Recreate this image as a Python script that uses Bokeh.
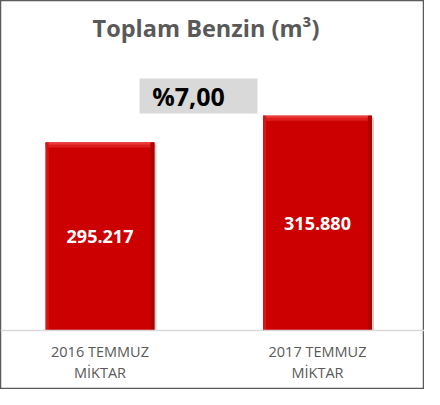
from bokeh.plotting import figure
from bokeh.models import Range1d, Span, Label, ColumnDataSource, BoxAnnotation
from bokeh.core.properties import value
from bokeh.embed import file_html
from bokeh.resources import INLINE

# ---- data ----
cat_line1 = ["2016 TEMMUZ", "2017 TEMMUZ"]
cat_line2 = ["MİKTAR", "MİKTAR"]
values = [295217, 315880]
value_labels = ["295.217", "315.880"]
change_label = "%7,00"
title_text = "Toplam  Benzin (m³)"
axis_min = 150000

# ---- layout constants ----
W, H = 424, 389
px_per_cat = 217.5
k = 0.0012946          # pixels per unit on y
base_from_bottom = 59  # pixels from bottom to baseline
x0_px = 99.5           # pixel of first category centre

x_start = -x0_px / px_per_cat
x_end = (W - x0_px) / px_per_cat
y_start = axis_min - base_from_bottom / k
y_end = axis_min + (H - base_from_bottom) / k

idx = list(range(len(values)))
bar_w = 0.5
src = ColumnDataSource(dict(
    x=idx,
    top=values,
    mid=[(axis_min + v) / 2 for v in values],
    lab=value_labels,
    l1=cat_line1,
    l2=cat_line2,
    base=[axis_min] * len(values),
    shadow_x=[i + 2 / px_per_cat for i in idx],
    shadow_top=[v - 2 / k for v in values],
    bevel1_bottom=[v - 2 / k for v in values],
    bevel2_bottom=[v - 5 / k for v in values],
    right_x=[i + bar_w / 2 - 2 / px_per_cat for i in idx],
    left_x=[i - bar_w / 2 + 1.5 / px_per_cat for i in idx],
))

p = figure(width=W, height=H, x_range=Range1d(x_start, x_end),
           y_range=Range1d(y_start, y_end), min_border=0,
           x_axis_location=None, y_axis_location=None,
           toolbar_location=None, output_backend="svg")
p.grid.visible = False
p.outline_line_color = "#5a5a5a"
p.outline_line_width = 1.5
p.background_fill_color = "white"
p.border_fill_color = "white"

font = value("Open Sans")

# baseline
p.add_layout(Span(location=axis_min, dimension="width", line_color="#D9D9D9", line_width=1.5))

# bars
p.vbar(x="shadow_x", top="shadow_top", bottom="base", width=bar_w, source=src,
       fill_color="#8c8c8c", fill_alpha=0.45, line_color=None)
p.vbar(x="x", top="top", bottom="base", width=bar_w, source=src,
       fill_color="#CC0000", line_color=None)
p.vbar(x="x", top="top", bottom="bevel2_bottom", width=bar_w, source=src,
       fill_color="#DC1E1E", line_color=None)
p.vbar(x="x", top="top", bottom="bevel1_bottom", width=bar_w, source=src,
       fill_color="#EE3A3A", line_color=None)
p.vbar(x="left_x", top="top", bottom="base", width=3 / px_per_cat, source=src,
       fill_color="#D81414", line_color=None)
p.vbar(x="right_x", top="top", bottom="base", width=4 / px_per_cat, source=src,
       fill_color="#B00000", line_color=None)

# value labels inside bars
p.text(x="x", y="mid", text="lab", source=src, text_font=font, text_font_size="18px",
       text_font_style="bold", text_color="white", text_align="center",
       text_baseline="middle")

# category labels
p.text(x="x", y="base", text="l1", source=src, text_font=font, text_font_size="14.5px",
       text_color="#595959", text_align="center", text_baseline="middle", y_offset=21)
p.text(x="x", y="base", text="l2", source=src, text_font=font, text_font_size="14.5px",
       text_color="#595959", text_align="center", text_baseline="middle", y_offset=42)

# change box
p.add_layout(BoxAnnotation(left=139, right=257, bottom=276, top=311,
                           left_units="screen", right_units="screen",
                           bottom_units="screen", top_units="screen",
                           fill_color="#D9D9D9", fill_alpha=1, line_color=None))
p.add_layout(Label(x=188, y=293.5, x_units="screen", y_units="screen",
                   text=change_label, text_font="Open Sans", text_font_size="25px",
                   text_font_style="bold", text_color="black",
                   text_align="center", text_baseline="middle"))

# title
p.add_layout(Label(x=208.5, y=362, x_units="screen", y_units="screen",
                   text=title_text, text_font="Open Sans", text_font_size="23.5px",
                   text_font_style="bold", text_color="#595959",
                   text_align="center", text_baseline="middle"))

open("out.html", "w").write(file_html(p, INLINE))
